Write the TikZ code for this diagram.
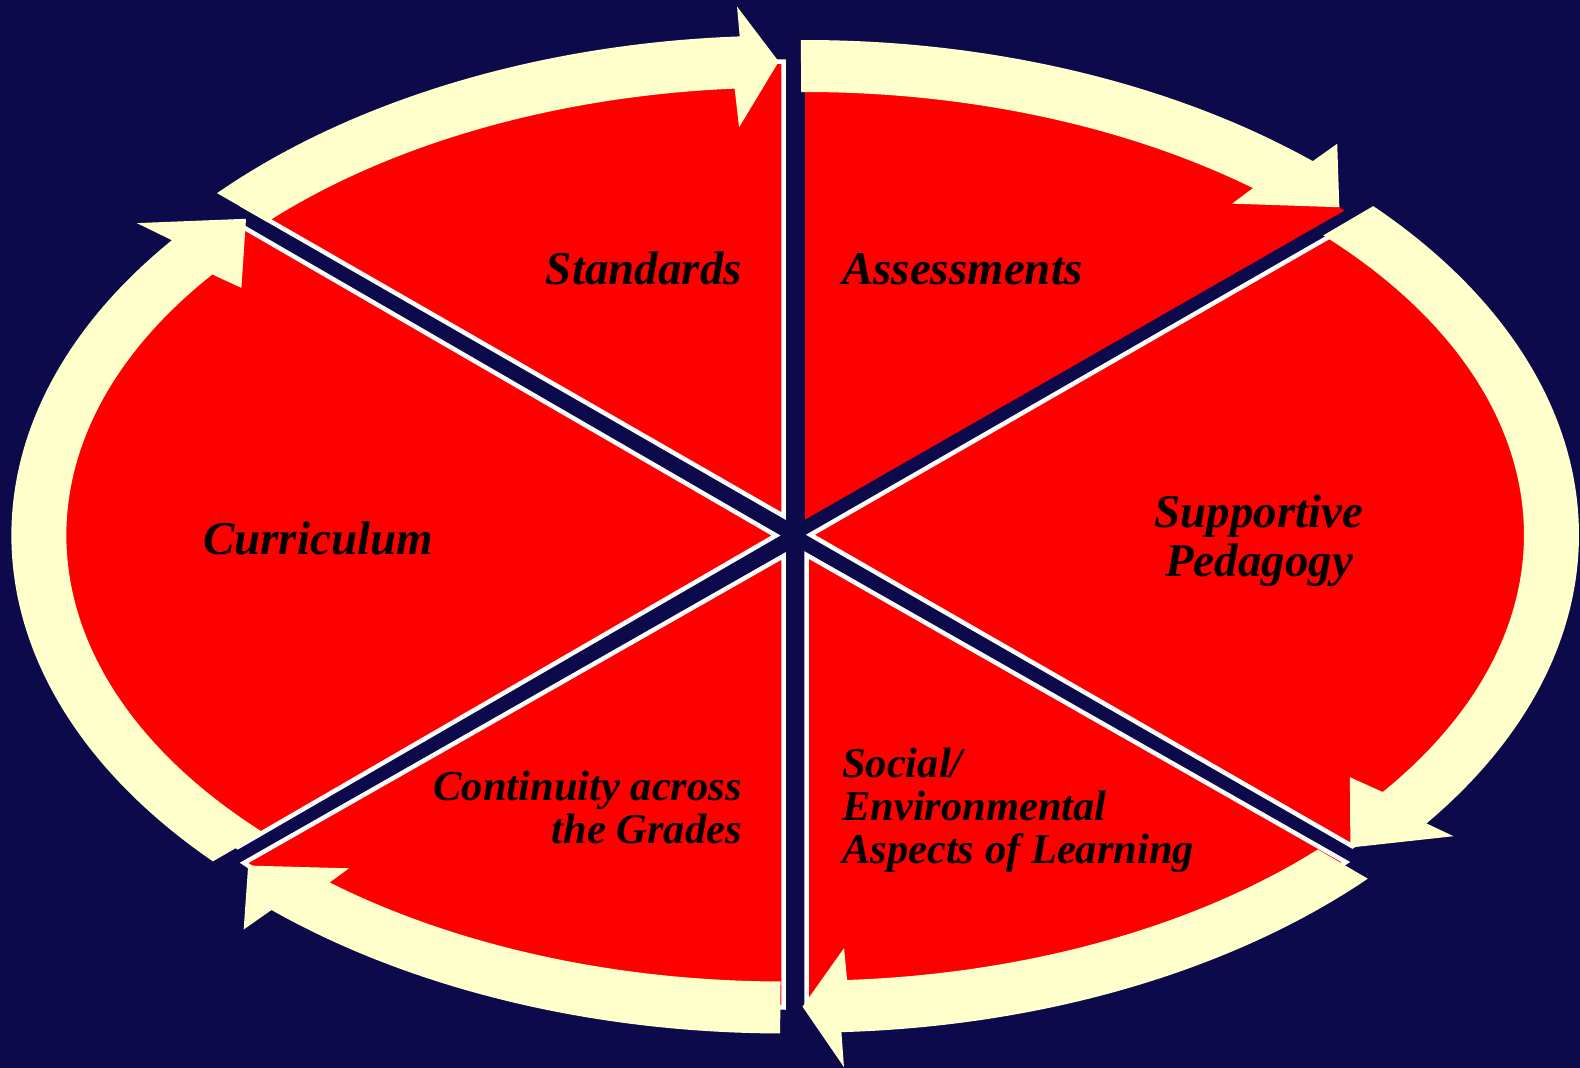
\documentclass[tikz,border=0pt]{standalone}
\usepackage{fontspec}
\setmainfont{Liberation Serif}
\definecolor{navy}{RGB}{12,10,74}
\definecolor{cream}{RGB}{255,255,204}
\definecolor{pred}{RGB}{255,0,0}
% ellipse radii (outer, inner, middle of the arrow band)
\newcommand{\oA}{766}\newcommand{\oB}{482}
\newcommand{\iA}{711}\newcommand{\iB}{430}
\newcommand{\mA}{738.5}\newcommand{\mB}{456}
% parametric angle of the point at visual angle #4 on ellipse (#2,#3)
\newcommand{\partang}[4]{%
  \pgfmathsetmacro#1{atan2((#2)*sin(#4),(#3)*cos(#4))}%
  \pgfmathsetmacro#1{#1+360*round(((#4)-#1)/360)}}
% sector: apex (#1,#2), ellipse centre (#3,#4), angles #5..#6, style #7
\newcommand{\redsector}[7]{%
  \partang\sca{\mA}{\mB}{#5}\partang\scb{\mA}{\mB}{#6}%
  \path[#7] (#1,#2) -- ({#3+\mA*cos(\sca)},{#4+\mB*sin(\sca)})
    arc[start angle=\sca, end angle=\scb, x radius=\mA, y radius=\mB] -- cycle;}
% arrow band: centre (#1,#2), tail angle #3, outer head base #4,
% inner head base #5, tip angle #6, outer barb #7, inner barb #8
\newcommand{\bandarrow}[8]{%
  \partang\aot{\oA}{\oB}{#3}\partang\aob{\oA}{\oB}{#4}%
  \partang\ait{\iA}{\iB}{#3}\partang\aib{\iA}{\iB}{#5}%
  \partang\amt{\mA}{\mB}{#6}%
  \fill[cream] ({#1+\oA*cos(\aot)},{#2+\oB*sin(\aot)})
    arc[start angle=\aot, end angle=\aob, x radius=\oA, y radius=\oB]
    -- ({#1+\oA*cos(\aob)+#7*cos(#4)},{#2+\oB*sin(\aob)+#7*sin(#4)})
    -- ({#1+\mA*cos(\amt)},{#2+\mB*sin(\amt)})
    -- ({#1+\iA*cos(\aib)-#8*cos(#5)},{#2+\iB*sin(\aib)-#8*sin(#5)})
    -- ({#1+\iA*cos(\aib)},{#2+\iB*sin(\aib)})
    arc[start angle=\aib, end angle=\ait, x radius=\iA, y radius=\iB]
    -- cycle;}
\begin{document}
\begin{tikzpicture}[x=1pt,y=1pt,
  wedge/.style={fill=pred, draw=white, line width=4.5pt, line join=miter},
  plainwedge/.style={fill=pred},
  lbl/.style={inner sep=0pt, font=\fontsize{47}{44}\selectfont\bfseries\itshape, text=black},
  slbl/.style={inner sep=0pt, font=\fontsize{42.5}{44}\selectfont\bfseries\itshape, text=black}]
\useasboundingbox (0,0) rectangle (1580,1068);
\fill[navy] (0,0) rectangle (1580,1068);
% sectors
\redsector{783.5}{552}{783.5}{550.4}{90}{150}{wedge}
\redsector{805}{548.4}{805}{546}{30}{90}{plainwedge}
\redsector{810.4}{533.2}{813}{533.2}{-30}{30}{wedge}
\redsector{806.5}{513}{806.5}{517.3}{-90}{-30}{wedge}
\redsector{783.5}{512}{783.5}{516.5}{210}{270}{wedge}
\redsector{776}{532.5}{777.3}{532.5}{150}{210}{wedge}
% arrows
\bandarrow{783.5}{550.4}{150.2}{95.2}{96.5}{90.6}{30}{39}
\bandarrow{805}{546}{90.5}{35.4}{36.7}{30.5}{30}{26}
\bandarrow{813}{533.2}{30.4}{-25.2}{-24.3}{-30.2}{30}{36}
\bandarrow{806.5}{517.3}{-30.3}{-85.85}{-84.6}{-90.5}{35}{32}
\bandarrow{783.5}{516.5}{269.6}{215.0}{216.1}{210.4}{34}{24}
\bandarrow{777.3}{532.5}{210}{154.0}{155.2}{149.2}{39}{32}
% labels
\node[lbl, anchor=base east] (std) at (742,783) {Standards};
\node[lbl, anchor=base west] (ass) at (842,783) {Assessments};
\node[lbl, anchor=base west] (cur) at (203,513) {Curriculum};
\node[lbl, anchor=base] (sup1) at (1259,540) {Supportive};
\node[lbl, anchor=base] (sup2) at (1259,491) {Pedagogy};
\node[slbl, anchor=base east] (con1) at (742,267) {Continuity across};
\node[slbl, anchor=base east] (con2) at (742,224) {the Grades};
\node[slbl, anchor=base west] (soc1) at (842,290) {Social/};
\node[slbl, anchor=base west] (soc2) at (842,247) {Environmental};
\node[slbl, anchor=base west] (soc3) at (842,204) {Aspects of Learning};
\end{tikzpicture}
\end{document}
